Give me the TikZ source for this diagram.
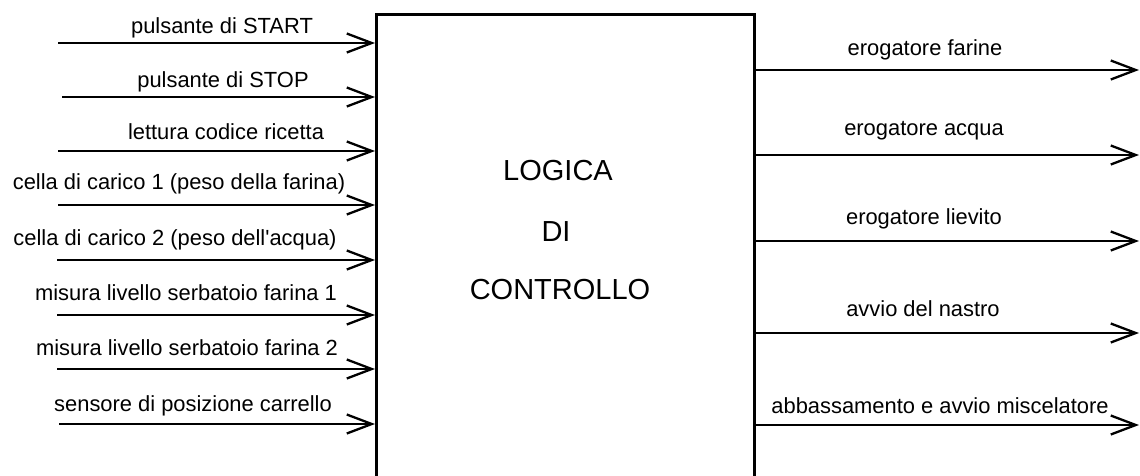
\documentclass[tikz,border=0pt]{standalone}
\usepackage{fontspec}
\setmainfont{Liberation Sans}[Ligatures=TeXOff]
\usetikzlibrary{arrows.meta}
\begin{document}
\begin{tikzpicture}[x=1pt,y=-1pt,
  arr/.style={line width=2.6pt,-{Straight Barb[length=25pt,width=19pt,line width=2.3pt]}},
  lbl/.style={anchor=base,inner sep=0pt,font=\fontsize{21.9}{24}\selectfont},
  big/.style={inner sep=0pt,font=\fontsize{29}{32}\selectfont},
  blockbox/.style={draw,line width=2.8pt,minimum width=378pt,minimum height=490pt,anchor=north west,inner sep=0pt}]
\useasboundingbox (0,0) rectangle (1140,475);
\clip (0,0) rectangle (1140,475);
\fill[white] (0,0) rectangle (1140,475);
\node[blockbox] (box) at (375,13) {};
\node[big] (t1) at (558,171) {LOGICA};
\node[big] (t2) at (556,232) {DI};
\node[big] (t3) at (560,290) {CONTROLLO};
% inputs
\coordinate (i1) at (58,43);
\coordinate (i2) at (62,97);
\coordinate (i3) at (58,151);
\coordinate (i4) at (58,205);
\coordinate (i5) at (57,260);
\coordinate (i6) at (57,315);
\coordinate (i7) at (57,369);
\coordinate (i8) at (59,424);
\foreach \k in {1,...,8} {\draw[arr] (i\k) -- (i\k -| box.west);}
\node[lbl] (l1) at (222,33) {pulsante di START};
\node[lbl] (l2) at (223,87) {pulsante di STOP};
\node[lbl] (l3) at (226,139) {lettura codice ricetta};
\node[lbl] (l4) at (179,189) {cella di carico 1 (peso della farina)};
\node[lbl] (l5) at (175,245) {cella di carico 2 (peso dell'acqua)};
\node[lbl] (l6) at (186,300) {misura livello serbatoio farina 1};
\node[lbl] (l7) at (187,355) {misura livello serbatoio farina 2};
\node[lbl] (l8) at (193,411) {sensore di posizione carrello};
% outputs
\coordinate (o1) at (1139,70);
\coordinate (o2) at (1139,155);
\coordinate (o3) at (1139,241);
\coordinate (o4) at (1139,333);
\coordinate (o5) at (1139,425);
\foreach \k in {1,...,5} {\draw[arr] (o\k -| box.east) -- (o\k);}
\node[lbl] (r1) at (925,55) {erogatore farine};
\node[lbl] (r2) at (924,135) {erogatore acqua};
\node[lbl] (r3) at (924,224) {erogatore lievito};
\node[lbl] (r4) at (923,316) {avvio del nastro};
\node[lbl] (r5) at (940,413) {abbassamento e avvio miscelatore};
\end{tikzpicture}
\end{document}
